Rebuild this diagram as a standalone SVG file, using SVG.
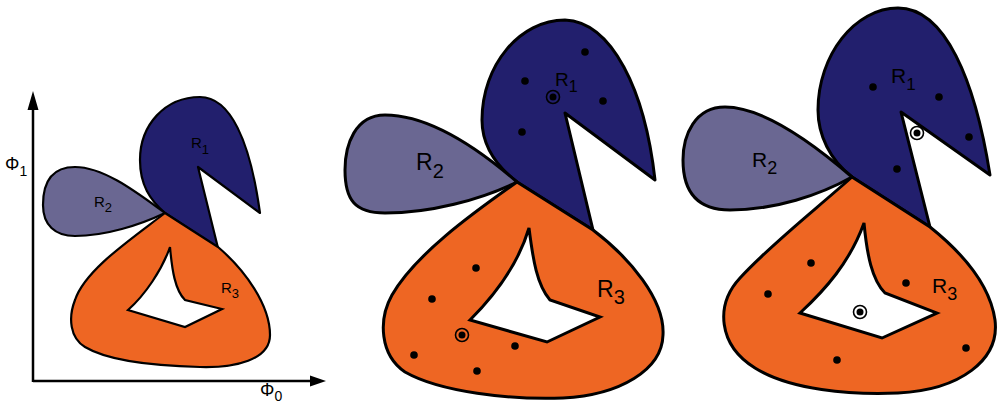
<svg xmlns="http://www.w3.org/2000/svg" width="997" height="404" viewBox="0 0 997 404">
<defs>
<style>
.r1{fill:#221f6d;stroke:#000;stroke-linejoin:round}
.r2{fill:#6a6792;stroke:#000;stroke-linejoin:round}
.r3{fill:#ee6623;stroke:#000;stroke-linejoin:round}
.hole{fill:#fff;stroke:#000;stroke-linejoin:miter}
.s{stroke-width:2.2}
.b{stroke-width:3}
.lbl{font-family:"Liberation Sans",Arial,sans-serif;fill:#000}
.dot{fill:#000}
.ring{fill:none;stroke:#000;stroke-width:1.6}
.ringw{fill:#fff;stroke:#000;stroke-width:1.6}
.axis{stroke:#000;stroke-width:2.5;fill:none}
</style>
</defs>
<rect width="997" height="404" fill="#fff"/>

<!-- Axes -->
<g id="axes">
<path class="axis" d="M33,382 V105 M33,381 H315"/>
<path d="M33,91 L27.5,110 L38.5,110 Z M326,381 L310,375.5 L310,386.5 Z" fill="#000"/>
<text class="lbl" x="5" y="170" font-size="18">Φ<tspan font-size="14" dy="6">1</tspan></text>
<text class="lbl" x="260" y="396" font-size="18">Φ<tspan font-size="14" dy="5">0</tspan></text>
</g>

<!-- Left diagram -->
<g id="left-R1">
<path class="r1 s" d="M165,213 C150,200 140,185 140,160 C140,125 165,97 200,97 C230,97 250,140 260,213 L198,167 L218,248 Z"/>
<text class="lbl" x="191" y="148" font-size="15">R<tspan font-size="13" dy="6">1</tspan></text>
</g>
<g id="left-R2">
<path class="r2 s" d="M165,213 C140,195 105,167 75,167 C50,167 43,185 43,205 C43,225 55,236 75,236 C105,236 140,225 165,213 Z"/>
<text class="lbl" x="94" y="207" font-size="15">R<tspan font-size="13" dy="5">2</tspan></text>
</g>
<g id="left-R3">
<path class="r3 s" d="M165,213 L218,247 C245,270 270,305 270,335 C270,360 235,368 200,367 C160,366 110,362 85,347 C70,338 68,318 75,300 C85,270 130,240 165,213 Z"/>
<path class="hole s" d="M170,247 C172,270 175,290 185,300 L222,309 L185,327 L128,310 C145,295 162,270 170,247 Z"/>
<text class="lbl" x="221" y="293" font-size="15">R<tspan font-size="13" dy="5">3</tspan></text>
</g>

<!-- Middle diagram -->
<g id="mid-R1">
<path class="r1 b" d="M517,182 C495,165 482,145 482,120 C482,65 520,20 565,20 C612,22 645,90 655,180 L565,113 L593,230 Z"/>
<text class="lbl" x="555" y="86" font-size="19">R<tspan font-size="16" dy="6">1</tspan></text>
<circle class="dot" cx="585" cy="52" r="3.8"/>
<circle class="dot" cx="525" cy="81" r="3.8"/>
<circle class="dot" cx="603" cy="101" r="3.8"/>
<circle class="dot" cx="522" cy="132" r="3.8"/>
<circle class="ring" cx="553" cy="97" r="6.5"/>
<circle class="dot" cx="553" cy="97" r="3.5"/>
</g>
<g id="mid-R2">
<path class="r2 b" d="M517,182 C480,150 430,115 385,115 C355,115 345,145 345,170 C345,200 355,213 385,213 C430,213 480,200 517,182 Z"/>
<text class="lbl" x="416" y="170" font-size="23">R<tspan font-size="20" dy="8">2</tspan></text>
</g>
<g id="mid-R3">
<path class="r3 b" d="M517,182 L593,230 C630,258 665,300 663,335 C662,370 620,395 563,398 C510,400 440,392 405,372 C380,355 378,320 392,295 C415,255 470,215 517,182 Z"/>
<path class="hole b" d="M529,228 C533,260 537,285 550,300 L600,317 L547,342 L470,320 C495,295 518,265 529,228 Z"/>
<text class="lbl" x="597" y="297" font-size="23">R<tspan font-size="20" dy="7">3</tspan></text>
<circle class="dot" cx="476" cy="268" r="3.8"/>
<circle class="dot" cx="432" cy="299" r="3.8"/>
<circle class="dot" cx="515" cy="346" r="3.8"/>
<circle class="dot" cx="414" cy="355" r="3.8"/>
<circle class="dot" cx="477" cy="371" r="3.8"/>
<circle class="ring" cx="462" cy="335" r="6.5"/>
<circle class="dot" cx="462" cy="335" r="3.5"/>
</g>

<!-- Right diagram -->
<g id="right-R1">
<path class="r1 b" d="M852,177 C830,160 818,135 818,110 C818,55 855,8 898,8 C945,8 975,80 990,175 L901,112 L930,227 Z"/>
<text class="lbl" x="891" y="83" font-size="21">R<tspan font-size="17" dy="7">1</tspan></text>
<circle class="dot" cx="873" cy="87" r="3.8"/>
<circle class="dot" cx="939" cy="97" r="3.8"/>
<circle class="dot" cx="969" cy="137" r="3.8"/>
<circle class="dot" cx="897" cy="169" r="3.8"/>
<circle class="ringw" cx="917" cy="133" r="6.5"/>
<circle class="dot" cx="917" cy="133" r="3.5"/>
</g>
<g id="right-R2">
<path class="r2 b" d="M852,177 C815,145 765,107 725,107 C695,107 683,135 683,160 C683,195 700,210 730,210 C775,210 820,195 852,177 Z"/>
<text class="lbl" x="752" y="167" font-size="21">R<tspan font-size="18" dy="7">2</tspan></text>
</g>
<g id="right-R3">
<path class="r3 b" d="M852,177 L930,227 C965,255 990,285 995,320 C1000,360 960,390 898,393 C850,395 790,390 755,368 C718,345 715,305 740,278 C770,245 815,210 852,177 Z"/>
<path class="hole b" d="M864,223 C867,255 872,280 885,293 L937,313 L882,338 L800,313 C825,290 850,262 864,223 Z"/>
<text class="lbl" x="932" y="293" font-size="21">R<tspan font-size="18" dy="7">3</tspan></text>
<circle class="dot" cx="811" cy="263" r="3.8"/>
<circle class="dot" cx="906" cy="283" r="3.8"/>
<circle class="dot" cx="768" cy="294" r="3.8"/>
<circle class="dot" cx="966" cy="348" r="3.8"/>
<circle class="dot" cx="837" cy="360" r="3.8"/>
<circle class="ringw" cx="860" cy="312" r="6.5"/>
<circle class="dot" cx="860" cy="312" r="3.5"/>
</g>
</svg>
